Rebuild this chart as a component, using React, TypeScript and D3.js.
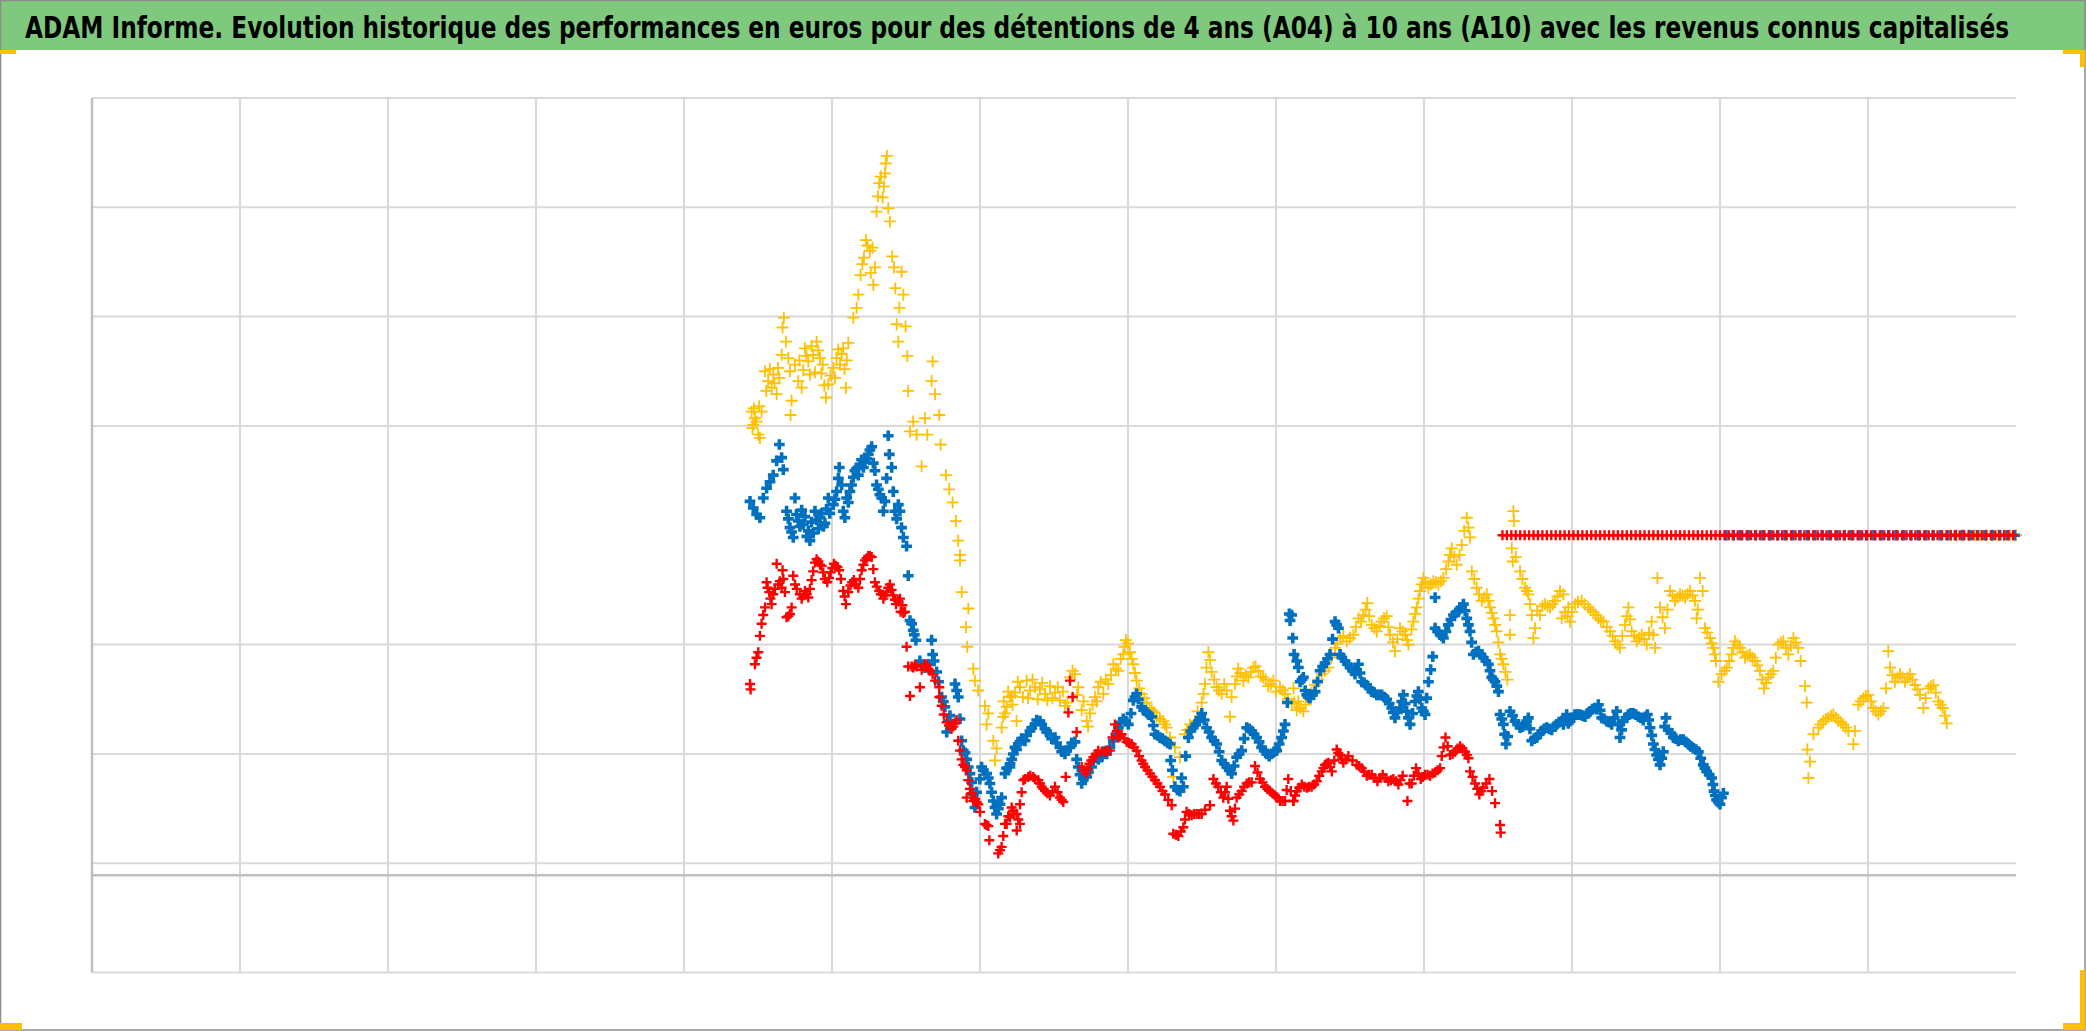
import React, { useEffect, useRef } from 'react';
import * as d3 from 'd3';

const TITLE =
  'ADAM Informe. Evolution historique des performances en euros pour des détentions de 4 ans (A04) à 10 ans (A10) avec les revenus connus capitalisés';

// axe des x : périodes (une graduation par unité), axe des y : performance
const xGridTicks = [0, 1, 2, 3, 4, 5, 6, 7, 8, 9, 10, 11, 12];
const yGridTicks = [-40, -30, -20, -10, 10, 20, 30, 40];
const xDomain: [number, number] = [0, 13];
const yDomain: [number, number] = [-40, 40];
const axisCrossing = -31.1;

// A04 (jaune)
const yellowPoints: [number, number][] = [
  [4.457, 11.3], [4.468, 10.1], [4.479, 10.7], [4.502, 9.2], [4.513, 8.9], [4.524, 11.3],
  [4.547, 15.0], [4.569, 14.1], [4.592, 13.5], [4.603, 14.7], [4.626, 12.9], [4.644, 14.4],
  [4.660, 16.5], [4.666, 19.0], [4.675, 19.9], [4.689, 17.7], [4.705, 16.2], [4.716, 15.0],
  [4.727, 12.3], [4.720, 11.0], [4.750, 15.6], [4.772, 14.1], [4.795, 13.5], [4.817, 17.1],
  [4.840, 15.9], [4.851, 14.7], [4.873, 16.5], [4.896, 17.7], [4.919, 16.2], [4.937, 15.6],
  [4.959, 12.6], [4.975, 13.8], [5.009, 15.3], [5.031, 16.2], [5.054, 15.6], [5.076, 17.1],
  [5.094, 13.5], [5.110, 17.6], [5.144, 19.9], [5.166, 20.8], [5.178, 22.0], [5.193, 23.8],
  [5.216, 25.4], [5.229, 27.0], [5.256, 26.0], [5.274, 26.3], [5.290, 24.5], [5.279, 22.9],
  [5.301, 29.6], [5.319, 32.2], [5.342, 30.9], [5.358, 33.1], [5.371, 34.7], [5.380, 29.9],
  [5.391, 28.7], [5.407, 25.5], [5.419, 24.5], [5.428, 22.6], [5.470, 24.1], [5.482, 22.0],
  [5.455, 20.8], [5.437, 19.3], [5.448, 17.7], [5.497, 19.1], [5.509, 16.4], [5.515, 13.2],
  [5.527, 9.5], [5.549, 10.4], [5.572, 9.2], [5.605, 6.3], [5.628, 10.7], [5.644, 9.2],
  [5.680, 15.9], [5.673, 14.1], [5.696, 12.9], [5.725, 11.0], [5.734, 8.3], [5.770, 5.5],
  [5.792, 4.2], [5.815, 3.0], [5.837, 1.3], [5.853, -0.5], [5.865, -1.8], [5.865, -2.3],
  [5.876, -5.2], [5.921, -6.7], [5.905, -8.4], [5.914, -10.2], [5.955, -12.2], [5.966, -13.3],
  [5.988, -14.2], [6.033, -15.6], [6.056, -16.3], [6.045, -17.3], [6.090, -18.8], [6.112, -19.5],
  [6.101, -20.6], [6.157, -16.6], [6.180, -15.7], [6.214, -14.7], [6.247, -17.0], [6.146, -17.6],
  [6.169, -16.3], [6.203, -14.8], [6.236, -14.4], [6.270, -13.9], [6.315, -13.3], [6.338, -14.2],
  [6.372, -13.9], [6.405, -14.1], [6.439, -14.5], [6.473, -13.8], [6.507, -14.4], [6.540, -15.1],
  [6.574, -15.6], [6.608, -13.0], [6.642, -12.7], [6.664, -13.9], [6.687, -16.0], [6.721, -17.0],
  [6.743, -16.3], [6.777, -14.8], [6.799, -13.9], [6.833, -14.5], [6.867, -13.6], [6.901, -11.8],
  [6.935, -12.4], [6.968, -10.9], [6.986, -9.6], [7.013, -10.7], [7.036, -11.8], [7.058, -13.3],
  [7.092, -14.5], [7.126, -15.3], [7.160, -16.0], [7.194, -16.6], [7.239, -17.0], [7.261, -17.6],
  [7.284, -18.5], [7.317, -19.4], [7.351, -20.3], [7.306, -22.1], [7.385, -18.2], [7.419, -17.3],
  [7.453, -17.0], [7.498, -15.3], [7.520, -13.6], [7.543, -10.7], [7.565, -12.5], [7.599, -13.9],
  [7.633, -14.5], [7.667, -14.2], [7.689, -16.6], [7.723, -13.6], [7.745, -12.2], [7.779, -13.3],
  [7.813, -13.0], [7.847, -12.1], [7.881, -12.4], [7.914, -13.0], [7.948, -13.8], [7.982, -13.3],
  [8.027, -13.9], [8.061, -14.5], [8.106, -15.4], [8.140, -16.0], [8.118, -14.0], [8.151, -15.2],
  [8.185, -16.1], [8.219, -14.9], [8.264, -13.7], [8.309, -12.7], [8.354, -12.1], [8.399, -10.3],
  [8.433, -9.4], [8.478, -9.7], [8.523, -9.1], [8.557, -7.6], [8.590, -7.3], [8.617, -6.2],
  [8.647, -8.2], [8.681, -8.8], [8.714, -7.9], [8.748, -7.4], [8.771, -9.1], [8.804, -10.6],
  [8.838, -8.5], [8.872, -9.1], [8.895, -10.0], [8.928, -7.9], [8.951, -6.6], [8.973, -5.1],
  [8.996, -3.9], [9.030, -4.8], [9.063, -4.2], [9.097, -4.5], [9.131, -3.9], [9.165, -2.4],
  [9.187, -1.2], [9.221, -2.7], [9.255, -0.9], [9.289, 1.6], [9.311, -0.2], [9.323, -3.3],
  [9.356, -4.8], [9.390, -6.0], [9.424, -5.4], [9.446, -6.6], [9.469, -7.6], [9.491, -8.8],
  [9.514, -10.9], [9.536, -11.8], [9.563, -13.2], [9.581, -7.3], [9.581, -9.1], [9.604, 2.2],
  [9.608, 1.3], [9.593, -1.2], [9.600, -2.4], [9.649, -3.3], [9.683, -4.8], [9.705, -5.4],
  [9.728, -7.3], [9.750, -8.5], [9.739, -9.4], [9.784, -7.3], [9.818, -6.3], [9.852, -6.6],
  [9.885, -6.0], [9.919, -5.1], [9.953, -7.0], [9.987, -7.9], [9.942, -5.4], [9.930, -7.6],
  [9.975, -6.6], [10.020, -6.3], [10.065, -6.0], [10.110, -6.6], [10.144, -7.0], [10.178, -7.6],
  [10.212, -7.9], [10.257, -8.8], [10.291, -9.7], [10.324, -10.3], [10.358, -8.2], [10.381, -6.6],
  [10.403, -8.8], [10.437, -9.7], [10.471, -9.1], [10.505, -10.0], [10.538, -7.9], [10.561, -10.3],
  [10.577, -3.9], [10.595, -6.6], [10.628, -8.5], [10.662, -5.1], [10.696, -6.0], [10.730, -5.4],
  [10.764, -5.7], [10.797, -5.1], [10.831, -6.0], [10.842, -7.6], [10.865, -3.9], [10.883, -5.1],
  [10.899, -8.5], [10.933, -9.4], [10.955, -10.3], [10.973, -11.5], [10.989, -13.4], [11.011, -12.7],
  [11.045, -12.1], [11.079, -10.9], [11.101, -9.7], [11.135, -10.3], [11.169, -11.2], [11.203, -10.9],
  [11.237, -11.5], [11.270, -12.4], [11.297, -14.0], [11.327, -13.0], [11.360, -12.4], [11.394, -10.0],
  [11.428, -9.7], [11.462, -10.9], [11.496, -9.4], [11.529, -10.3], [11.545, -11.5], [11.574, -13.8],
  [11.586, -15.3], [11.590, -19.6], [11.608, -20.7], [11.597, -22.2], [11.631, -18.2], [11.665, -17.6],
  [11.698, -17.0], [11.732, -16.7], [11.766, -16.4], [11.800, -17.0], [11.833, -17.3], [11.867, -17.9],
  [11.901, -19.1], [11.912, -17.9], [11.935, -15.5], [11.969, -14.9], [12.002, -14.6], [12.036, -15.8],
  [12.070, -16.4], [12.104, -15.8], [12.122, -14.0], [12.137, -10.6], [12.149, -12.1], [12.182, -13.4],
  [12.216, -12.7], [12.250, -13.4], [12.284, -12.7], [12.318, -13.7], [12.351, -14.6], [12.374, -15.8],
  [12.408, -14.0], [12.442, -13.7], [12.475, -15.2], [12.505, -15.8], [12.532, -17.2],
];
// relevés complémentaires (zones denses du nuage jaune)
const yellowDense: [number, number][] = [
  [4.462, 9.8], [4.490, 10.4], [4.508, 11.8], [4.472, 11.6], [4.556, 13.2], [4.580, 15.2],
  [4.612, 13.9], [4.635, 15.3], [4.780, 16.0], [4.806, 15.1], [4.828, 16.4], [4.862, 17.3],
  [4.885, 14.9], [4.907, 16.9], [4.928, 14.8], [4.948, 13.7], [4.990, 14.6], [5.020, 14.4],
  [5.042, 17.0], [5.065, 16.6], [5.085, 15.2], [5.100, 16.0], [5.205, 24.8], [5.240, 26.5],
  [5.262, 24.0], [5.310, 31.0], [5.330, 32.8], [5.350, 31.9], [5.363, 34.0],
  [6.160, -15.2], [6.190, -14.3], [6.220, -15.5], [6.255, -13.4], [6.290, -14.8], [6.325, -14.9],
  [6.355, -13.2], [6.390, -15.0], [6.420, -13.5], [6.455, -15.1], [6.490, -14.9], [6.525, -13.9],
  [6.560, -14.3], [6.590, -15.3], [6.625, -12.4], [6.655, -14.6], [6.700, -15.2], [6.730, -17.5],
  [6.760, -15.5], [6.790, -15.2], [6.815, -13.4], [6.850, -13.2], [6.885, -12.8], [6.918, -12.2],
  [6.950, -11.3], [6.977, -10.2], [7.000, -9.9], [7.025, -11.3], [7.047, -12.6], [7.075, -14.0],
  [7.110, -14.9], [7.145, -15.8], [7.178, -16.2], [7.215, -16.8], [7.250, -17.3],
  [7.400, -17.8], [7.436, -17.5], [7.470, -16.1], [7.510, -14.5], [7.530, -12.1], [7.555, -11.4],
  [7.582, -13.2], [7.615, -14.2], [7.650, -13.6], [7.700, -14.8], [7.735, -12.9], [7.760, -12.6],
  [7.795, -12.8], [7.830, -12.5], [7.862, -12.0], [7.897, -12.9], [7.930, -13.2], [7.965, -13.6],
  [8.000, -14.3], [8.045, -14.2], [8.080, -15.0], [8.125, -15.3],
  [8.165, -15.8], [8.200, -15.5], [8.240, -14.4], [8.285, -13.2], [8.330, -12.4], [8.375, -11.2],
  [8.415, -9.9], [8.455, -9.2], [8.500, -9.4], [8.540, -8.4], [8.575, -7.9], [8.605, -6.8],
  [8.630, -7.4], [8.665, -8.5], [8.700, -8.3], [8.730, -7.6], [8.760, -8.4], [8.790, -9.8],
  [8.820, -9.5], [8.855, -8.8], [8.885, -9.6], [8.915, -8.6], [8.940, -7.2], [8.962, -5.8],
  [8.985, -4.5], [9.010, -4.3], [9.045, -4.5], [9.080, -4.3], [9.115, -4.2], [9.150, -3.1],
  [9.176, -1.8], [9.205, -2.0], [9.240, -1.8], [9.272, 0.4], [9.300, 0.7], [9.340, -4.0],
  [9.372, -5.4], [9.407, -5.7], [9.435, -6.0], [9.458, -7.1], [9.480, -8.2], [9.503, -9.8],
  [9.525, -11.3], [9.550, -12.5],
  [9.620, -2.0], [9.665, -4.0], [9.695, -5.1], [9.716, -6.3], [9.765, -6.9], [9.800, -6.5],
  [9.835, -6.5], [9.870, -6.3], [9.902, -5.6], [9.970, -7.4],
  [10.000, -7.0], [10.040, -6.1], [10.085, -6.3], [10.125, -6.8], [10.160, -7.3], [10.195, -7.8],
  [10.235, -8.4], [10.275, -9.2], [10.308, -10.0], [10.340, -9.2], [10.370, -7.4], [10.392, -7.7],
  [10.420, -9.2], [10.455, -9.4], [10.488, -9.5], [10.520, -8.9], [10.550, -9.1], [10.612, -7.5],
  [10.645, -6.8], [10.680, -5.5], [10.713, -5.7], [10.747, -5.5], [10.780, -5.4], [10.815, -5.5],
  [10.850, -6.8], [10.915, -8.9], [10.945, -9.9], [10.965, -10.9],
  [11.030, -12.4], [11.062, -11.5], [11.090, -10.3], [11.118, -10.0], [11.152, -10.7], [11.186, -11.0],
  [11.220, -11.2], [11.253, -11.9], [11.285, -13.2], [11.312, -13.5], [11.343, -12.7], [11.377, -11.2],
  [11.411, -9.8], [11.445, -10.3], [11.479, -10.1], [11.512, -9.8], [11.680, -17.3], [11.715, -16.8],
  [11.750, -16.5], [11.783, -16.7], [11.817, -17.1], [11.850, -17.6], [11.950, -15.2], [11.985, -14.7],
  [12.020, -15.2], [12.053, -16.1], [12.087, -16.1], [12.165, -12.8], [12.200, -13.0], [12.233, -13.0],
  [12.267, -13.0], [12.300, -13.2], [12.335, -14.1], [12.390, -14.9], [12.425, -13.8], [12.458, -14.4],
  [12.490, -15.5], [12.520, -16.5],
];
const yellowPendingT = [12.56, 12.6, 12.64, 12.68, 12.72, 12.76, 12.8, 12.84, 12.88, 12.92, 12.96, 13.0];

// A07 (bleu)
const bluePoints: [number, number][] = [
  [4.446, 3.1], [4.468, 2.5], [4.491, 1.9], [4.513, 1.6], [4.536, 3.4], [4.558, 4.3],
  [4.581, 4.9], [4.603, 5.5], [4.626, 6.8], [4.644, 8.3], [4.660, 7.1], [4.671, 6.0],
  [4.693, 2.2], [4.716, 0.7], [4.738, -0.2], [4.750, 3.4], [4.772, 1.3], [4.806, 1.0],
  [4.840, 0.4], [4.851, -0.5], [4.885, 2.2], [4.919, 1.6], [4.952, 1.1], [4.975, 3.4],
  [5.009, 2.8], [5.031, 4.0], [5.049, 6.2], [5.065, 4.6], [5.087, 1.6], [5.099, 3.4],
  [5.121, 4.0], [5.155, 5.9], [5.189, 6.5], [5.223, 6.8], [5.245, 7.4], [5.268, 8.1],
  [5.290, 5.9], [5.301, 4.6], [5.324, 3.7], [5.358, 3.1], [5.380, 9.1], [5.387, 7.4],
  [5.403, 6.2], [5.369, 5.2], [5.347, 2.2], [5.425, 2.2], [5.459, 2.2], [5.470, 0.7],
  [5.482, -0.2], [5.504, -1.0], [5.515, -3.7], [5.527, -7.8], [5.549, -8.7], [5.567, -9.6],
  [5.594, -11.5], [5.628, -12.1], [5.673, -9.6], [5.680, -10.9], [5.707, -12.5], [5.741, -14.8],
  [5.763, -15.7], [5.786, -17.0], [5.775, -18.0], [5.831, -13.6], [5.853, -14.8], [5.876, -18.8],
  [5.910, -20.5], [5.932, -21.8], [5.955, -23.7], [5.966, -24.9], [6.011, -21.2], [6.045, -21.8],
  [6.067, -22.7], [6.090, -24.3], [6.112, -25.5], [6.146, -24.0], [6.169, -21.8], [6.202, -21.2],
  [6.225, -20.0], [6.259, -19.1], [6.203, -20.9], [6.236, -19.4], [6.270, -18.9], [6.304, -18.8],
  [6.338, -17.9], [6.372, -17.3], [6.405, -17.0], [6.439, -17.7], [6.473, -18.2], [6.507, -18.5],
  [6.540, -19.4], [6.574, -20.0], [6.608, -19.4], [6.642, -18.9], [6.664, -21.2], [6.687, -22.7],
  [6.721, -22.1], [6.754, -21.2], [6.788, -20.2], [6.822, -20.3], [6.856, -20.0], [6.901, -18.8],
  [6.935, -17.6], [6.968, -16.8], [7.002, -17.3], [7.036, -15.1], [7.058, -14.5], [7.092, -15.7],
  [7.126, -16.2], [7.160, -16.6], [7.182, -18.2], [7.216, -18.5], [7.250, -18.8], [7.284, -19.1],
  [7.288, -20.6], [7.317, -23.0], [7.351, -23.4], [7.374, -23.0], [7.408, -18.5], [7.441, -17.6],
  [7.475, -17.0], [7.498, -16.3], [7.531, -17.6], [7.565, -18.5], [7.599, -19.1], [7.633, -20.6],
  [7.667, -21.2], [7.700, -21.8], [7.734, -20.3], [7.768, -19.7], [7.802, -17.6], [7.836, -17.9],
  [7.869, -18.5], [7.903, -19.4], [7.937, -20.0], [7.970, -20.0], [8.004, -19.7], [8.038, -18.5],
  [8.061, -17.3], [8.077, -15.3], [8.090, -7.2], [8.095, -7.8], [8.106, -7.3], [8.113, -9.4],
  [8.122, -10.9], [8.151, -12.1], [8.163, -13.4], [8.185, -13.0], [8.208, -14.6], [8.230, -14.9],
  [8.264, -14.3], [8.298, -12.4], [8.331, -11.7], [8.365, -10.9], [8.399, -7.9], [8.422, -8.5],
  [8.433, -10.9], [8.467, -11.5], [8.500, -12.1], [8.534, -12.7], [8.557, -11.8], [8.579, -13.4],
  [8.613, -13.7], [8.647, -14.3], [8.681, -14.6], [8.714, -14.6], [8.748, -15.0], [8.782, -15.8],
  [8.804, -16.7], [8.838, -15.8], [8.861, -14.6], [8.883, -16.1], [8.906, -17.3], [8.940, -15.2],
  [8.962, -14.3], [8.985, -15.8], [9.007, -16.4], [9.030, -13.4], [9.059, -11.1], [9.075, -8.5],
  [9.075, -5.7], [9.109, -9.1], [9.131, -9.4], [9.165, -8.2], [9.199, -7.3], [9.232, -7.0],
  [9.266, -6.3], [9.289, -7.6], [9.311, -8.8], [9.334, -10.9], [9.368, -10.6], [9.401, -11.2],
  [9.435, -11.8], [9.458, -13.0], [9.480, -13.4], [9.503, -14.3], [9.514, -16.4], [9.536, -17.3],
  [9.554, -19.1], [9.581, -16.1], [9.615, -17.0], [9.649, -17.6], [9.683, -17.3], [9.705, -16.7],
  [9.728, -18.8], [9.762, -18.5], [9.795, -17.9], [9.829, -17.6], [9.863, -17.8], [9.897, -17.3],
  [9.930, -17.0], [9.964, -16.4], [9.942, -17.3], [9.987, -17.0], [10.020, -16.4], [10.054, -16.4],
  [10.088, -16.6], [10.122, -16.1], [10.155, -15.8], [10.178, -15.5], [10.201, -16.7], [10.234, -17.0],
  [10.268, -17.3], [10.302, -16.1], [10.324, -18.5], [10.347, -17.0], [10.381, -16.4], [10.414, -16.3],
  [10.448, -16.6], [10.482, -16.9], [10.509, -16.4], [10.527, -17.6], [10.550, -19.1], [10.572, -20.1],
  [10.595, -21.0], [10.617, -19.8], [10.635, -16.7], [10.651, -17.8], [10.685, -18.5], [10.718, -18.8],
  [10.752, -18.7], [10.786, -19.1], [10.820, -19.5], [10.854, -19.8], [10.887, -21.0], [10.910, -21.6],
  [10.944, -22.2], [10.960, -23.4], [10.977, -24.2], [11.000, -24.6], [11.023, -23.6],
];
const blueDense: [number, number][] = [
  [4.705, 1.5], [4.727, 0.3], [4.760, 1.9], [4.783, 0.8], [4.795, 2.3], [4.817, 1.7],
  [4.830, -0.1], [4.862, 1.2], [4.873, 0.2], [4.896, 1.4], [4.908, 0.6], [4.930, 2.0],
  [4.942, 0.8], [4.963, 2.4], [4.985, 2.0],
  [5.020, 3.3], [5.043, 5.2], [5.076, 2.2], [5.110, 3.0], [5.132, 4.6], [5.144, 5.3],
  [5.166, 6.1], [5.178, 5.5], [5.200, 6.9], [5.212, 6.2], [5.234, 7.0], [5.256, 7.8],
  [5.279, 6.6], [5.313, 4.2], [5.336, 3.4], [5.414, 4.0], [5.437, 1.5], [5.448, 2.8],
  [5.538, -8.1], [5.556, -9.1], [5.610, -11.9], [5.650, -11.8], [5.690, -11.5], [5.720, -13.4],
  [5.752, -15.2], [5.797, -16.5], [5.842, -14.2], [5.865, -16.8], [5.887, -19.7], [5.899, -19.9],
  [5.921, -21.2], [5.944, -22.6], [5.977, -23.5], [5.999, -22.3], [6.022, -21.5], [6.056, -22.2],
  [6.078, -23.5], [6.101, -24.9], [6.124, -25.0], [6.135, -24.6], [6.180, -21.3], [6.214, -20.5],
  [6.247, -19.6], [6.281, -18.6],
  [6.315, -18.3], [6.349, -17.6], [6.383, -16.9], [6.417, -17.3], [6.450, -18.0], [6.484, -18.6],
  [6.518, -19.0], [6.552, -19.8], [6.586, -19.7], [6.620, -19.0], [6.653, -20.5], [6.676, -21.9],
  [6.698, -22.3], [6.732, -21.7], [6.765, -20.7], [6.800, -20.5], [6.835, -19.8], [6.878, -19.4],
  [6.918, -18.2], [6.950, -17.1], [6.985, -17.0], [7.020, -16.3],
  [7.047, -14.8], [7.070, -15.0], [7.105, -16.0], [7.140, -16.4], [7.171, -17.4], [7.200, -18.3],
  [7.233, -18.6], [7.268, -19.0], [7.300, -21.5], [7.334, -23.3], [7.362, -22.2], [7.390, -20.2],
  [7.425, -17.9], [7.458, -17.3], [7.486, -16.7], [7.515, -16.9], [7.548, -18.0], [7.582, -18.8],
  [7.616, -19.8], [7.650, -20.9], [7.684, -21.5], [7.717, -21.1], [7.751, -20.0], [7.785, -18.6],
  [7.819, -17.7], [7.852, -18.2], [7.886, -18.9], [7.920, -19.7], [7.954, -20.2], [7.987, -19.8],
  [8.021, -19.1], [8.050, -17.9],
  [8.140, -11.5], [8.175, -13.2], [8.197, -14.2], [8.219, -14.8], [8.247, -14.6], [8.281, -13.4],
  [8.315, -12.0], [8.348, -11.3], [8.382, -9.5], [8.410, -8.2], [8.445, -11.2], [8.483, -11.8],
  [8.517, -12.4], [8.545, -12.3], [8.568, -12.6], [8.596, -13.5], [8.630, -14.0], [8.664, -14.4],
  [8.697, -14.6], [8.731, -14.8], [8.765, -15.4], [8.793, -16.2], [8.821, -16.2], [8.850, -15.2],
  [8.872, -15.4], [8.895, -16.7], [8.923, -16.3], [8.951, -14.7], [8.973, -15.0], [8.996, -16.1],
  [9.018, -14.9], [9.045, -12.3], [9.092, -8.8], [9.120, -9.2], [9.148, -8.8], [9.182, -7.7],
  [9.215, -7.1], [9.249, -6.6], [9.278, -6.9], [9.300, -8.2], [9.322, -9.8], [9.351, -10.7],
  [9.385, -10.9], [9.418, -11.5], [9.446, -12.4], [9.469, -13.2], [9.492, -13.8],
  [9.525, -16.8], [9.545, -18.2], [9.565, -18.4], [9.598, -16.5], [9.632, -17.3], [9.666, -17.5],
  [9.694, -17.0], [9.716, -17.7], [9.745, -18.6], [9.779, -18.2], [9.812, -17.7], [9.846, -17.7],
  [9.880, -17.5], [9.913, -17.1], [9.953, -16.9], [9.975, -17.2], [10.003, -16.7], [10.037, -16.4],
  [10.071, -16.5], [10.105, -16.3], [10.138, -15.9], [10.166, -15.9], [10.190, -16.0], [10.217, -16.8],
  [10.251, -17.1], [10.285, -16.7], [10.313, -17.3], [10.335, -17.8], [10.364, -16.7], [10.397, -16.3],
  [10.431, -16.4], [10.465, -16.7], [10.495, -16.6], [10.518, -16.9], [10.539, -18.3], [10.561, -19.6],
  [10.584, -20.5], [10.606, -20.4], [10.626, -17.5], [10.668, -18.1], [10.701, -18.6], [10.735, -18.7],
  [10.769, -18.9], [10.803, -19.3], [10.837, -19.6], [10.870, -20.4], [10.898, -21.3], [10.927, -21.9],
  [10.952, -22.8], [10.968, -23.8], [10.988, -24.4], [11.010, -24.0],
];
const bluePendingT = [
  11.04, 11.09, 11.14, 11.19, 11.24, 11.29, 11.34, 11.39, 11.44, 11.49, 11.54, 11.59, 11.64, 11.69,
  11.74, 11.79, 11.84, 11.89, 11.94, 11.99, 12.04, 12.09, 12.14, 12.19, 12.24, 12.29, 12.34, 12.39,
  12.44, 12.49, 12.54, 12.59, 12.64, 12.69, 12.74, 12.79, 12.84, 12.89, 12.94, 12.99,
];

// A10 (rouge)
const redPoints: [number, number][] = [
  [4.446, -13.6], [4.450, -14.1], [4.479, -11.8], [4.502, -10.7], [4.513, -9.2], [4.524, -8.1],
  [4.547, -6.6], [4.558, -4.3], [4.576, -5.2], [4.592, -6.3], [4.603, -5.4], [4.626, -2.6],
  [4.637, -4.5], [4.660, -4.8], [4.666, -3.2], [4.682, -5.2], [4.693, -7.5], [4.716, -7.2],
  [4.727, -6.6], [4.738, -3.7], [4.750, -4.5], [4.795, -5.8], [4.817, -5.1], [4.840, -5.7],
  [4.862, -4.1], [4.896, -2.2], [4.930, -2.8], [4.968, -4.3], [4.991, -3.4], [5.013, -2.6],
  [5.049, -3.2], [5.076, -5.1], [5.094, -6.3], [5.110, -5.2], [5.148, -4.1], [5.178, -4.8],
  [5.200, -3.2], [5.223, -2.3], [5.245, -1.9], [5.268, -2.0], [5.290, -4.3], [5.319, -5.1],
  [5.347, -5.8], [5.369, -5.2], [5.391, -4.5], [5.414, -5.5], [5.432, -6.3], [5.459, -5.8],
  [5.464, -7.0], [5.493, -7.0], [5.504, -10.2], [5.515, -12.0], [5.549, -12.1], [5.527, -14.7],
  [5.594, -13.9], [5.628, -11.8], [5.651, -12.2], [5.680, -12.7], [5.725, -13.9], [5.725, -14.8],
  [5.775, -17.1], [5.808, -17.7], [5.842, -16.9], [5.853, -18.8], [5.876, -20.5], [5.910, -21.5],
  [5.932, -23.2], [5.910, -24.0], [5.966, -24.1], [5.988, -24.6], [6.033, -26.4], [6.056, -26.6],
  [6.063, -27.9], [6.123, -29.1], [6.146, -28.5], [6.180, -26.4], [6.214, -24.9], [6.247, -25.5],
  [6.270, -26.4], [6.169, -26.4], [6.203, -25.8], [6.225, -25.5], [6.248, -27.0], [6.270, -24.6],
  [6.293, -22.4], [6.326, -22.1], [6.360, -22.1], [6.394, -22.4], [6.417, -23.0], [6.439, -23.4],
  [6.473, -23.8], [6.507, -23.0], [6.540, -24.0], [6.563, -24.4], [6.579, -22.1], [6.597, -16.2],
  [6.608, -13.3], [6.626, -14.8], [6.653, -18.0], [6.687, -21.2], [6.716, -21.8], [6.739, -20.9],
  [6.766, -20.3], [6.799, -19.7], [6.844, -19.8], [6.878, -19.7], [6.912, -17.3], [6.935, -18.5],
  [6.957, -18.2], [6.991, -18.9], [7.025, -19.1], [7.058, -19.7], [7.092, -20.6], [7.115, -21.2],
  [7.149, -21.8], [7.182, -22.4], [7.216, -23.0], [7.250, -23.7], [7.295, -24.7], [7.306, -27.3],
  [7.340, -27.5], [7.374, -26.7], [7.396, -25.3], [7.430, -25.6], [7.464, -25.5], [7.498, -25.5],
  [7.554, -24.7], [7.577, -22.3], [7.610, -23.0], [7.644, -24.0], [7.667, -23.0], [7.689, -25.2],
  [7.712, -26.1], [7.734, -24.0], [7.768, -23.4], [7.802, -22.7], [7.836, -22.6], [7.858, -21.1],
  [7.892, -22.3], [7.926, -23.0], [7.959, -23.4], [7.993, -23.8], [8.027, -24.3], [8.061, -24.3],
  [8.083, -22.3], [8.117, -24.3], [8.118, -24.3], [8.140, -23.4], [8.174, -22.8], [8.208, -23.1],
  [8.241, -23.0], [8.275, -22.5], [8.309, -21.6], [8.331, -21.0], [8.354, -20.8], [8.377, -21.6],
  [8.410, -19.6], [8.433, -20.1], [8.455, -20.8], [8.489, -20.2], [8.545, -21.0], [8.579, -21.3],
  [8.613, -22.0], [8.647, -21.9], [8.685, -22.5], [8.721, -21.9], [8.759, -22.5], [8.793, -22.3],
  [8.827, -22.8], [8.856, -22.0], [8.888, -24.3], [8.917, -22.7], [8.946, -21.3], [8.978, -22.3],
  [9.007, -21.9], [9.041, -22.0], [9.075, -21.7], [9.109, -21.3], [9.120, -20.2], [9.145, -18.5],
  [9.176, -20.1], [9.210, -19.8], [9.244, -19.3], [9.277, -19.8], [9.300, -20.4], [9.311, -21.6],
  [9.345, -22.7], [9.374, -23.7], [9.401, -23.1], [9.442, -22.3], [9.480, -24.5], [9.514, -26.5],
  [9.518, -27.2],
];
const redDense: [number, number][] = [
  [4.490, -11.2], [4.535, -7.3], [4.565, -4.8], [4.584, -5.8], [4.614, -4.9], [4.648, -4.2],
  [4.671, -4.0], [4.705, -7.4], [4.762, -4.9], [4.783, -5.4], [4.806, -5.5], [4.829, -5.4],
  [4.851, -4.9], [4.873, -3.3], [4.885, -2.5], [4.908, -2.4], [4.919, -2.7], [4.941, -3.4],
  [4.952, -4.0], [4.980, -3.9], [5.002, -3.0], [5.025, -2.8], [5.037, -2.9], [5.060, -4.0],
  [5.085, -5.6], [5.125, -4.6], [5.136, -4.3], [5.160, -4.5], [5.189, -4.0], [5.212, -2.7],
  [5.234, -2.1], [5.256, -1.9], [5.279, -3.1], [5.302, -4.7], [5.330, -5.4], [5.358, -5.5],
  [5.380, -4.8], [5.403, -5.0], [5.425, -5.9], [5.445, -6.0], [5.476, -6.4], [5.482, -7.1],
  [5.538, -12.0], [5.560, -11.9], [5.572, -12.0], [5.606, -12.3], [5.640, -11.9], [5.662, -12.4],
  [5.697, -13.3], [5.741, -15.6], [5.755, -16.4], [5.790, -17.4], [5.820, -17.5], [5.831, -17.2],
  [5.865, -19.7], [5.887, -21.0], [5.899, -21.2], [5.921, -22.4], [5.944, -23.6], [5.955, -24.3],
  [5.977, -24.4], [6.000, -25.3], [6.044, -26.5], [6.135, -28.8], [6.157, -27.5], [6.191, -25.7],
  [6.225, -25.2], [6.259, -26.0],
  [6.281, -23.5], [6.304, -22.3], [6.340, -22.0], [6.372, -22.3], [6.405, -22.7], [6.428, -23.2],
  [6.456, -23.6], [6.490, -23.4], [6.524, -23.5], [6.552, -24.2], [6.700, -21.5], [6.727, -21.4],
  [6.752, -20.6], [6.782, -20.0], [6.822, -19.8], [6.861, -19.7], [6.895, -18.5], [6.924, -17.9],
  [6.946, -18.4], [6.975, -18.6], [7.008, -19.0], [7.041, -19.4], [7.075, -20.2], [7.103, -20.9],
  [7.132, -21.5], [7.165, -22.1], [7.199, -22.7], [7.233, -23.4], [7.272, -24.2],
  [7.323, -27.4], [7.357, -27.1], [7.385, -26.0], [7.413, -25.5], [7.447, -25.5], [7.481, -25.5],
  [7.520, -25.1], [7.594, -22.7], [7.627, -23.5], [7.656, -23.5], [7.678, -24.1], [7.700, -25.7],
  [7.723, -25.0], [7.751, -23.7], [7.785, -23.0], [7.819, -22.6], [7.875, -21.7], [7.909, -22.6],
  [7.942, -23.2], [7.976, -23.6], [8.010, -24.0], [8.044, -24.3], [8.072, -23.3], [8.100, -23.4],
  [8.129, -23.8], [8.157, -23.1], [8.191, -23.0], [8.224, -23.0], [8.258, -22.8], [8.292, -22.0],
  [8.320, -21.3], [8.343, -20.9], [8.366, -21.2], [8.394, -20.6], [8.421, -19.9], [8.444, -20.5],
  [8.472, -20.5], [8.517, -20.6], [8.562, -21.1], [8.596, -21.6], [8.630, -21.9], [8.666, -22.2],
  [8.703, -22.2], [8.740, -22.2], [8.776, -22.4], [8.810, -22.5], [8.841, -22.4], [8.902, -22.7],
  [8.931, -22.0], [8.962, -21.8], [8.992, -22.1], [9.024, -21.9], [9.058, -21.8], [9.092, -21.5],
  [9.132, -19.4], [9.160, -19.3], [9.193, -20.0], [9.227, -19.5], [9.260, -19.5], [9.289, -20.1],
  [9.328, -22.1], [9.360, -23.2], [9.388, -23.4], [9.421, -22.7], [9.460, -23.4],
];
const redPendingT = [
  9.53, 9.56, 9.59, 9.62, 9.65, 9.68, 9.71, 9.74, 9.77, 9.80, 9.83, 9.86, 9.89, 9.92, 9.95, 9.98,
  10.01, 10.04, 10.07, 10.10, 10.13, 10.16, 10.19, 10.22, 10.25, 10.28, 10.31, 10.34, 10.37, 10.40,
  10.43, 10.46, 10.49, 10.52, 10.55, 10.58, 10.61, 10.64, 10.67, 10.70, 10.73, 10.76, 10.79, 10.82,
  10.85, 10.88, 10.91, 10.94, 10.97, 11.00, 11.03, 11.06, 11.09, 11.12, 11.15, 11.18, 11.21, 11.24,
  11.27, 11.30, 11.33, 11.36, 11.39, 11.42, 11.45, 11.48, 11.51, 11.54, 11.57, 11.60, 11.63, 11.66,
  11.69, 11.72, 11.75, 11.78, 11.81, 11.84, 11.87, 11.90, 11.93, 11.96, 11.99, 12.02, 12.05, 12.08,
  12.11, 12.14, 12.17, 12.20, 12.23, 12.26, 12.29, 12.32, 12.35, 12.38, 12.41, 12.44, 12.47, 12.50,
  12.53, 12.56, 12.59, 12.62, 12.65, 12.68, 12.71, 12.74, 12.77, 12.80, 12.83, 12.86, 12.89, 12.92,
  12.95, 12.98,
];

const WIDTH = 2086;
const HEIGHT = 1031;

export default function App() {
  const svgRef = useRef<SVGSVGElement>(null);

  useEffect(() => {
    if (!svgRef.current) return;
    const svg = d3.select(svgRef.current);
    svg.selectAll('*').remove();

    const plot = { left: 92, right: 2016, top: 97.9, bottom: 972.6 };

    const x = d3.scaleLinear().domain(xDomain).range([plot.left, plot.right]);
    const y = d3.scaleLinear().domain(yDomain).range([plot.bottom, plot.top]);

    svg.append('rect').attr('width', WIDTH).attr('height', HEIGHT).attr('fill', '#ffffff');

    // bandeau titre
    svg.append('rect')
      .attr('x', 0).attr('y', 0).attr('width', WIDTH).attr('height', 50)
      .attr('fill', '#7fc97e');
    svg.append('text')
      .attr('transform', 'translate(25,38) scale(1,1.3)')
      .attr('textLength', 1984)
      .attr('lengthAdjust', 'spacingAndGlyphs')
      .style('font-family', "'Liberation Sans Narrow', 'DejaVu Sans Condensed', 'Liberation Sans', sans-serif")
      .style('font-weight', 'bold')
      .style('font-size', '23px')
      .attr('fill', '#000000')
      .text(TITLE);

    // grille
    const grid = svg.append('g');
    grid.selectAll('.hgrid')
      .data(yGridTicks)
      .enter()
      .append('line')
      .attr('x1', plot.left).attr('x2', plot.right)
      .attr('y1', d => y(d)).attr('y2', d => y(d))
      .attr('stroke', '#d9d9d9').attr('stroke-width', 2);
    grid.selectAll('.vgrid')
      .data(xGridTicks.filter(d => d > 0))
      .enter()
      .append('line')
      .attr('x1', d => x(d)).attr('x2', d => x(d))
      .attr('y1', plot.top).attr('y2', plot.bottom)
      .attr('stroke', '#d9d9d9').attr('stroke-width', 2);

    // axes
    svg.append('line')
      .attr('x1', x(0)).attr('x2', x(0))
      .attr('y1', plot.top).attr('y2', plot.bottom)
      .attr('stroke', '#bfbfbf').attr('stroke-width', 2.5);
    svg.append('line')
      .attr('x1', plot.left).attr('x2', plot.right)
      .attr('y1', y(axisCrossing)).attr('y2', y(axisCrossing))
      .attr('stroke', '#bfbfbf').attr('stroke-width', 2.5);

    const thinPlus = (r: number) => `M${-r},0H${r}M0,${-r}V${r}`;
    const boldPlus = d3.symbol().type(d3.symbolCross).size(64)();

    const drawSeries = (
      pts: [number, number][],
      pendingT: number[],
      style: { color: string; bold: boolean; r: number; sw: number }
    ) => {
      const all: [number, number][] = pts.concat(pendingT.map(t => [t, 0] as [number, number]));
      const g = svg.append('g');
      const marks = g.selectAll('path')
        .data(all)
        .enter()
        .append('path')
        .attr('transform', d => `translate(${x(d[0])},${y(d[1])})`);
      if (style.bold) {
        marks.attr('d', boldPlus).attr('fill', style.color);
      } else {
        marks.attr('d', thinPlus(style.r))
          .attr('fill', 'none')
          .attr('stroke', style.color)
          .attr('stroke-width', style.sw);
      }
    };

    drawSeries(yellowPoints.concat(yellowDense), yellowPendingT, { color: '#ffc000', bold: false, r: 6, sw: 1.8 });
    drawSeries(bluePoints.concat(blueDense), bluePendingT, { color: '#0070c0', bold: true, r: 5, sw: 3 });
    drawSeries(redPoints.concat(redDense), redPendingT, { color: '#ff0000', bold: false, r: 5, sw: 2.4 });

    // cadre et repères de coin
    svg.append('rect')
      .attr('x', 0.5).attr('y', 0.5).attr('width', WIDTH - 1.5).attr('height', HEIGHT - 1.5)
      .attr('fill', 'none').attr('stroke', '#8c8c8c').attr('stroke-width', 1.5);
    const corners = [
      [0, 50, 16, 4],
      [2063, 50, 22, 4],
      [2080, 50, 5, 17],
      [0, 1023, 22, 7],
      [2063, 1023, 22, 7],
      [2080, 970, 5, 60],
    ];
    svg.append('g')
      .selectAll('rect')
      .data(corners)
      .enter()
      .append('rect')
      .attr('x', d => d[0]).attr('y', d => d[1])
      .attr('width', d => d[2]).attr('height', d => d[3])
      .attr('fill', '#ffc000');
  }, []);

  return (
    <svg
      ref={svgRef}
      width={WIDTH}
      height={HEIGHT}
      style={{ position: 'absolute', left: 0, top: 0, display: 'block' }}
    />
  );
}
